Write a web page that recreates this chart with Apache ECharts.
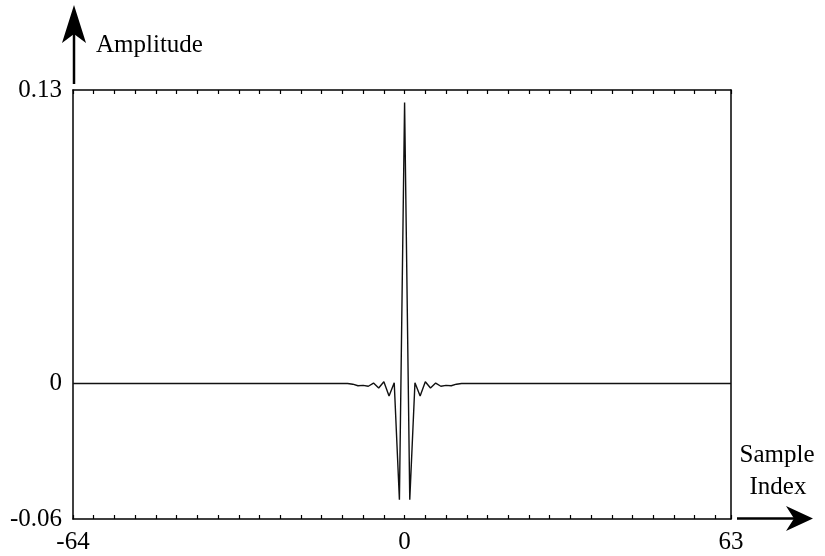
<!DOCTYPE html>
<html>
<head>
<meta charset="utf-8">
<script src="https://cdn.jsdelivr.net/npm/echarts@6/dist/echarts.min.js"></script>
<style>
  html, body { margin: 0; padding: 0; background: #fff; }
  #chart { width: 825px; height: 556px; }
</style>
</head>
<body>
<div id="chart"></div>
<script>
// Impulse response of the filter, one value per sample index (-64 .. 63)
const sampleIndex = Array.from({ length: 128 }, (_, i) => i - 64);

const amplitude = [
  // n = -64 .. -11
  0, 0, 0, 0, 0, 0, 0, 0, 0, 0,
  0, 0, 0, 0, 0, 0, 0, 0, 0, 0,
  0, 0, 0, 0, 0, 0, 0, 0, 0, 0,
  0, 0, 0, 0, 0, 0, 0, 0, 0, 0,
  0, 0, 0, 0, 0, 0, 0, 0, 0, 0,
  0, 0, 0, 0,
  // n = -10 .. -1
  -0.0003, -0.001, -0.0008, -0.0012, 0.0002, -0.002, 0.0008, -0.0055, 0.0003, -0.0515,
  // n = 0
  0.1245,
  // n = 1 .. 10
  -0.0515, 0.0003, -0.0055, 0.0008, -0.002, 0.0002, -0.0012, -0.0008, -0.001, -0.0003,
  // n = 11 .. 63
  0, 0, 0, 0, 0, 0, 0, 0, 0, 0,
  0, 0, 0, 0, 0, 0, 0, 0, 0, 0,
  0, 0, 0, 0, 0, 0, 0, 0, 0, 0,
  0, 0, 0, 0, 0, 0, 0, 0, 0, 0,
  0, 0, 0, 0, 0, 0, 0, 0, 0, 0,
  0, 0, 0
];

const xLabels = [-64, 0, 63];
const yLabels = [-0.06, 0, 0.13];

const serif = "'Liberation Serif', 'Times New Roman', serif";
const ink = '#000';

const chart = echarts.init(document.getElementById('chart'), null, { renderer: 'canvas' });

const frameLine = { show: true, onZero: false, lineStyle: { color: ink, width: 1.5 } };

const option = {
  animation: false,
  backgroundColor: '#fff',
  grid: { left: 73, right: 94, top: 90, bottom: 37 },
  xAxis: [
    {
      type: 'value', position: 'bottom', min: -64, max: 63, interval: 4,
      axisLine: frameLine,
      axisTick: { show: true, inside: true, length: 4, lineStyle: { color: ink, width: 1.2 } },
      splitLine: { show: false },
      axisLabel: {
        customValues: xLabels,
        color: ink, fontFamily: serif, fontSize: 25, margin: 11,
        formatter: v => String(Math.round(v))
      }
    },
    {
      type: 'value', position: 'top', min: -64, max: 63, interval: 4,
      axisLine: frameLine,
      axisTick: { show: true, inside: true, length: 4, lineStyle: { color: ink, width: 1.2 } },
      splitLine: { show: false },
      axisLabel: { show: false }
    }
  ],
  yAxis: [
    {
      type: 'value', position: 'left', min: -0.06, max: 0.13, interval: 0.01,
      axisLine: frameLine,
      axisTick: { show: false },
      splitLine: { show: false },
      axisLabel: {
        customValues: yLabels,
        color: ink, fontFamily: serif, fontSize: 25, margin: 11,
        formatter: v => (Math.abs(v) < 1e-9 ? '0' : String(+v.toFixed(2)))
      }
    },
    {
      type: 'value', position: 'right', min: -0.06, max: 0.13, interval: 0.01,
      axisLine: frameLine,
      axisTick: { show: false },
      splitLine: { show: false },
      axisLabel: { show: false }
    }
  ],
  series: [
    {
      type: 'line',
      xAxisIndex: 0,
      yAxisIndex: 0,
      data: sampleIndex.map((n, i) => [n, amplitude[i]]),
      showSymbol: false,
      symbol: 'none',
      lineStyle: { color: '#111', width: 1.4 },
      z: 3
    }
  ],
  graphic: [
    // vertical axis arrow
    { type: 'line', shape: { x1: 74, y1: 84, x2: 74, y2: 30 }, style: { stroke: ink, lineWidth: 2.5 } },
    { type: 'polygon', shape: { points: [[74, 5], [86, 43], [74, 34], [62, 43]] }, style: { fill: ink } },
    { type: 'text', left: 96, top: 33, style: { text: 'Amplitude', font: '25px ' + serif, fill: ink } },
    // horizontal axis arrow
    { type: 'line', shape: { x1: 737, y1: 518.5, x2: 795, y2: 518.5 }, style: { stroke: ink, lineWidth: 2.5 } },
    { type: 'polygon', shape: { points: [[813, 518.5], [786, 506], [794, 518.5], [786, 531]] }, style: { fill: ink } },
    { type: 'text', x: 777, y: 455, style: { text: 'Sample', font: '25px ' + serif, fill: ink, align: 'center', verticalAlign: 'middle' } },
    { type: 'text', x: 778, y: 487, style: { text: 'Index', font: '25px ' + serif, fill: ink, align: 'center', verticalAlign: 'middle' } }
  ]
};

chart.setOption(option);
</script>
</body>
</html>
